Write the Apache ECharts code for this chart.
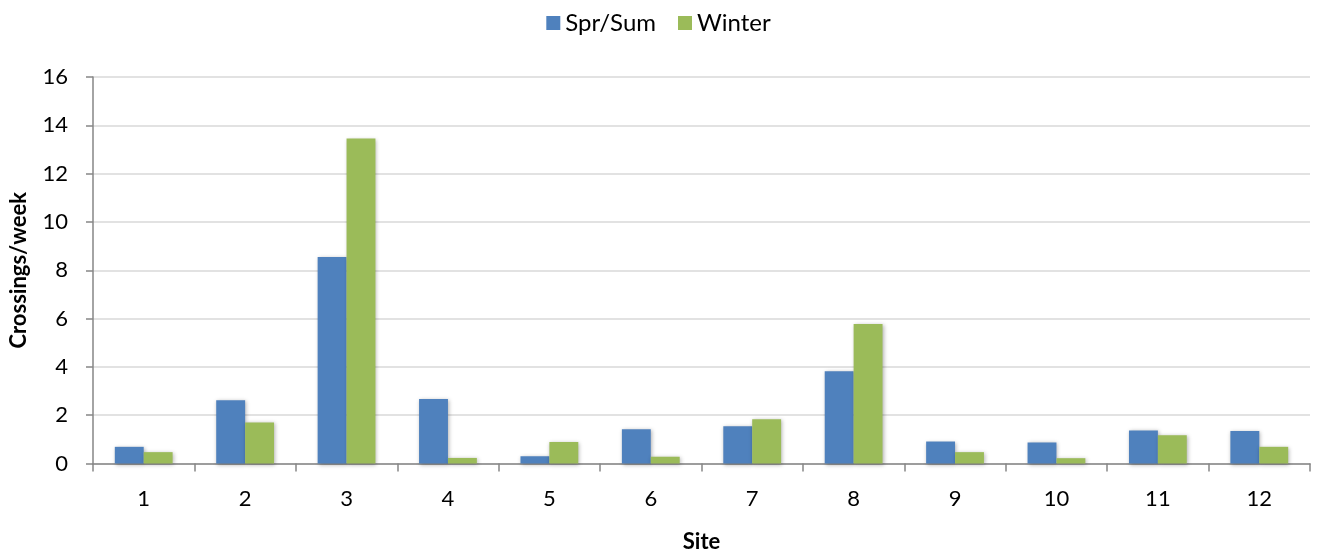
<!DOCTYPE html>
<html>
<head>
<meta charset="utf-8">
<script src="https://cdn.jsdelivr.net/npm/echarts@6/dist/echarts.min.js"></script>
<style>
html,body{margin:0;padding:0;background:#fff;}
#chart{width:1317px;height:552px;}
</style>
</head>
<body>
<div id="chart"></div>
<script>
const sites = ['1','2','3','4','5','6','7','8','9','10','11','12'];
const sprSum = [0.69, 2.62, 8.55, 2.67, 0.30, 1.42, 1.54, 3.82, 0.91, 0.87, 1.37, 1.35];
const winter = [0.47, 1.70, 13.45, 0.23, 0.89, 0.28, 1.83, 5.77, 0.47, 0.22, 1.17, 0.69];
const seriesNames = ['Spr/Sum', 'Winter'];
const yTicks = [0, 2, 4, 6, 8, 10, 12, 14, 16];

const FONT = 'Lato';
const chart = echarts.init(document.getElementById('chart'));
const shadow = {shadowBlur: 4, shadowColor: 'rgba(0,0,0,0.3)', shadowOffsetX: 1, shadowOffsetY: 1};
chart.setOption({
  animation: false,
  textStyle: {fontFamily: FONT},
  legend: {
    data: seriesNames,
    top: 6,
    left: 'center',
    itemWidth: 14,
    itemHeight: 14,
    itemGap: 22,
    icon: 'rect',
    textStyle: {fontFamily: FONT, fontSize: 24, color: '#000'}
  },
  grid: {left: 93, right: 7, top: 77, bottom: 88.5, containLabel: false, outerBoundsMode: 'none'},
  xAxis: {
    type: 'category',
    data: sites,
    name: 'Site',
    nameLocation: 'middle',
    nameGap: 67,
    nameTextStyle: {fontFamily: FONT, fontSize: 22, fontWeight: 'bold', color: '#000'},
    axisLine: {lineStyle: {color: '#868686', width: 1.5}},
    axisTick: {show: true, length: 8, lineStyle: {color: '#868686', width: 1.5}},
    axisLabel: {fontFamily: FONT, fontSize: 22, color: '#000', margin: 24}
  },
  yAxis: {
    type: 'value',
    min: yTicks[0],
    max: yTicks[yTicks.length - 1],
    interval: 2,
    name: 'Crossings/week',
    nameLocation: 'middle',
    nameGap: 63,
    nameTextStyle: {fontFamily: FONT, fontSize: 22, fontWeight: 'bold', color: '#000'},
    axisLine: {show: true, lineStyle: {color: '#868686', width: 1.5}},
    axisTick: {show: true, length: 7, lineStyle: {color: '#868686', width: 1.5}},
    axisLabel: {fontFamily: FONT, fontSize: 22, color: '#000', margin: 25},
    splitLine: {show: true, lineStyle: {color: '#D9D9D9', width: 1.5}}
  },
  series: [
    {
      name: seriesNames[0], type: 'bar', data: sprSum,
      barGap: '0%', barCategoryGap: '43%',
      itemStyle: Object.assign({color: '#4F81BD'}, shadow)
    },
    {
      name: seriesNames[1], type: 'bar', data: winter,
      barGap: '0%', barCategoryGap: '43%',
      itemStyle: Object.assign({color: '#9BBB59'}, shadow)
    }
  ]
});
</script>
</body>
</html>
